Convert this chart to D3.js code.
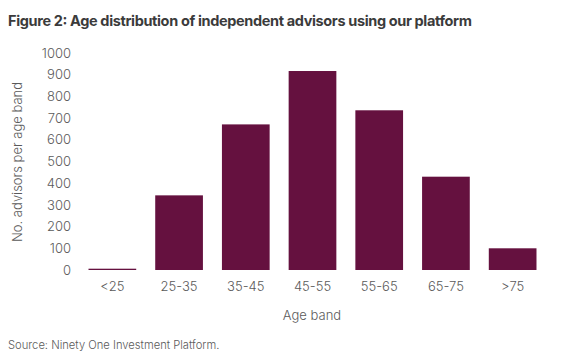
<!DOCTYPE html>
<html>
<head>
<meta charset="utf-8">
<script src="https://cdn.jsdelivr.net/npm/d3@7"></script>
<style>
  body { margin: 0; background: #fff; }
  svg text { font-family: "Inter", "Roboto", sans-serif; }
</style>
</head>
<body>
<svg id="chart" width="564" height="361"></svg>
<script>
// chart data
const ageBands = ['<25', '25-35', '35-45', '45-55', '55-65', '65-75', '>75'];
const advisorCounts = [6, 344, 671, 917, 736, 430, 100];
const yTicks = [0, 100, 200, 300, 400, 500, 600, 700, 800, 900, 1000];

const svg = d3.select('#chart');
const barColor = '#65113f';
const textColor = '#5a5a5a';

// scales
const x = d3.scaleBand().domain(ageBands).range([79, 546])
  .paddingInner(0.285).paddingOuter(0.1425);
const y = d3.scaleLinear().domain([0, 1000]).range([270, 53]);

// title
svg.append('text')
  .attr('x', 8).attr('y', 26)
  .attr('font-size', 14.5).attr('font-weight', 700)
  .attr('font-family', '"Liberation Sans", Arial, sans-serif')
  .attr('fill', '#3b3b3b')
  .attr('textLength', 464)
  .attr('lengthAdjust', 'spacing')
  .text('Figure 2: Age distribution of independent advisors using our platform');

// y axis (labels only)
const yAxis = svg.append('g')
  .attr('transform', 'translate(71,0)')
  .call(d3.axisLeft(y).tickValues(yTicks).tickSize(0).tickPadding(0).tickFormat(d3.format('d')));
yAxis.select('.domain').remove();
yAxis.selectAll('text').attr('font-size', 13).attr('font-weight', 300).attr('fill', textColor).attr('font-family', '"Inter", "Roboto", sans-serif');

// x axis (labels only)
const xAxis = svg.append('g')
  .attr('transform', 'translate(0,282)')
  .call(d3.axisBottom(x).tickSize(0).tickPadding(0));
xAxis.select('.domain').remove();
xAxis.selectAll('text').attr('font-size', 13).attr('font-weight', 300).attr('fill', textColor).attr('font-family', '"Inter", "Roboto", sans-serif');

// bars
svg.append('g').selectAll('rect')
  .data(advisorCounts)
  .join('rect')
  .attr('x', (d, i) => x(ageBands[i]))
  .attr('y', d => y(d))
  .attr('width', x.bandwidth())
  .attr('height', d => y(0) - y(d))
  .attr('fill', barColor);

// axis titles
svg.append('text')
  .attr('transform', 'translate(22,162) rotate(-90)')
  .attr('text-anchor', 'middle')
  .attr('font-size', 13).attr('font-weight', 300).attr('fill', textColor)
  .text('No. advisors per age band');

svg.append('text')
  .attr('x', 312).attr('y', 320)
  .attr('text-anchor', 'middle')
  .attr('font-size', 13).attr('font-weight', 300).attr('fill', textColor)
  .text('Age band');

// source note
svg.append('text')
  .attr('x', 8).attr('y', 349)
  .attr('font-size', 11.2).attr('font-weight', 300).attr('fill', textColor)
  .text('Source: Ninety One Investment Platform.');
</script>
</body>
</html>
